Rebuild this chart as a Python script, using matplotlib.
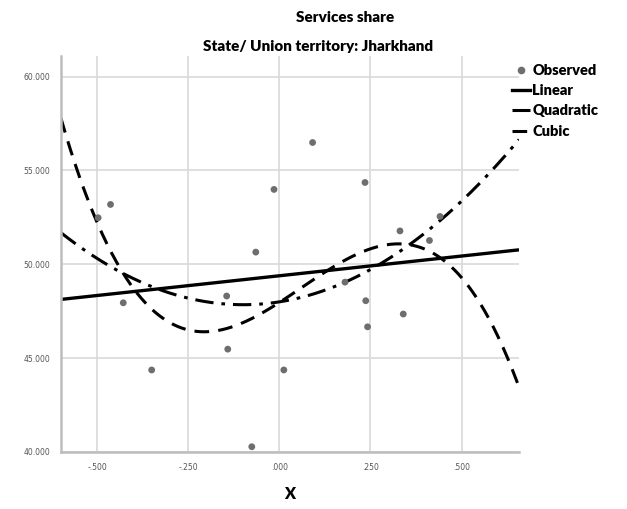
import numpy as np
import matplotlib
matplotlib.use("Agg")
import matplotlib.pyplot as plt
from matplotlib.lines import Line2D
from matplotlib.ticker import FuncFormatter

# Observed values
x_obs = [-0.498, -0.464, -0.429, -0.351, -0.145, -0.142, -0.076, -0.065, -0.015,
         0.012, 0.091, 0.180, 0.235, 0.237, 0.242, 0.331, 0.340, 0.412, 0.441]
y_obs = [52.48, 53.19, 47.95, 44.37, 48.31, 45.48, 40.28, 50.65, 53.99,
         44.37, 56.49, 49.05, 54.36, 48.06, 46.67, 51.78, 47.35, 51.27, 52.55]

# Fitted model coefficients (constant, b1, b2, b3)
linear_coef = [49.39, 2.10]
quadratic_coef = [48.00, 3.06, 15.33]
cubic_coef = [47.97, 12.5, 11.1, -61.6]

x_ticks = [-0.5, -0.25, 0.0, 0.25, 0.5]
y_ticks = [40, 45, 50, 55, 60]
x_min, x_max = -0.6, 0.658


def evaluate(coef, x):
    return sum(c * x ** i for i, c in enumerate(coef))


QUAD_DASH = (6, 2.6, 1.2, 2.6)
CUBIC_DASH = (4.8, 3.0)

fig = plt.figure(figsize=(6.27, 5.09), dpi=100)
ax = fig.add_axes([0.0973, 0.112, 0.7305, 0.778])

xs = np.linspace(x_min, x_max, 400)
ax.plot(xs, evaluate(linear_coef, xs), color="black", lw=2.4, solid_capstyle="butt")
ax.plot(xs, evaluate(quadratic_coef, xs), color="black", lw=2.2, dashes=QUAD_DASH)
ax.plot(xs, evaluate(cubic_coef, xs), color="black", lw=2.2, dashes=CUBIC_DASH)
ax.scatter(x_obs, y_obs, s=24, color="#6e6e6e", zorder=3, edgecolors="none")

ax.set_xlim(x_min, x_max)
ax.set_ylim(40, 61.1)
ax.set_xticks(x_ticks)
ax.set_yticks(y_ticks)


def fmt_x(v, pos):
    s = f"{v:.3f}"
    return s.replace("0.", ".", 1)


ax.xaxis.set_major_formatter(FuncFormatter(fmt_x))
ax.yaxis.set_major_formatter(FuncFormatter(lambda v, p: f"{v:.3f}"))
ax.tick_params(length=0, labelsize=5.5, labelcolor="#555555", pad=8)
ax.grid(True, color="#d9d9d9", lw=1.2)
ax.set_axisbelow(True)
for side in ("top", "right"):
    ax.spines[side].set_visible(False)
for side in ("left", "bottom"):
    ax.spines[side].set_color("#bdbdbd")
    ax.spines[side].set_linewidth(1.8)

font = "Lato"
ax.set_xlabel("X", fontsize=11.5, fontweight="heavy", family=font, labelpad=10)

fig.text(0.55, 0.966, "Services share", ha="center", va="center",
         fontsize=11, fontweight="heavy", family=font)
fig.text(0.507, 0.909, "State/ Union territory: Jharkhand", ha="center",
         va="center", fontsize=11, fontweight="heavy", family=font)

handles = [
    Line2D([], [], marker="o", ls="none", color="#6e6e6e", markersize=4.5),
    Line2D([], [], color="black", lw=2.4),
    Line2D([], [], color="black", lw=2.2, dashes=QUAD_DASH),
    Line2D([], [], color="black", lw=2.2, dashes=CUBIC_DASH),
]
labels = ["Observed", "Linear", "Quadratic", "Cubic"]
fig.legend(handles, labels, loc="upper left", bbox_to_anchor=(0.808, 0.886),
           frameon=False, handlelength=1.2, handletextpad=0.15,
           labelspacing=0.5, borderaxespad=0,
           prop={"family": font, "weight": "heavy", "size": 10.5})

fig.savefig("out.png", dpi=100, facecolor="white")
